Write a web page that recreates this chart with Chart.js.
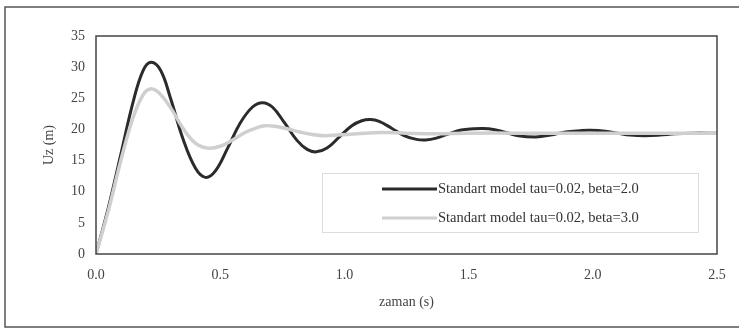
<!DOCTYPE html>
<html><head><meta charset="utf-8">
<script src="https://cdn.jsdelivr.net/npm/chart.js@4/dist/chart.umd.min.js"></script>
<style>html,body{margin:0;padding:0;background:#fff}#wrap{width:739px;height:329px}</style>
</head><body><div id="wrap"><canvas id="c" width="739" height="329"></canvas></div>
<script>
const seriesLabels = ["Standart model tau=0.02, beta=2.0", "Standart model tau=0.02, beta=3.0"];
const xTicks = [0, 0.5, 1.0, 1.5, 2.0, 2.5];
const yTicks = [0, 5, 10, 15, 20, 25, 30, 35];
const tBeta2 = [0,0.05,0.10,0.15,0.19,0.222,0.26,0.30,0.35,0.40,0.44,0.48,0.53,0.58,0.63,0.67,0.71,0.76,0.81,0.85,0.887,0.93,0.98,1.03,1.07,1.105,1.14,1.19,1.24,1.29,1.327,1.37,1.42,1.47,1.52,1.556,1.60,1.65,1.70,1.77,1.83,1.89,1.95,1.99,2.05,2.10,2.15,2.21,2.27,2.33,2.40,2.50];
const uzBeta2 = [0,7.5,16,24.5,29.5,30.8,29.5,25,18.5,13.8,12.3,13.3,17,21,23.6,24.3,23.6,21,18.2,16.8,16.4,17,18.8,20.6,21.4,21.6,21.3,20.2,19,18.4,18.3,18.6,19.3,19.9,20.1,20.15,20,19.5,19.0,18.8,19.1,19.6,19.8,19.85,19.7,19.4,19.1,19.0,19.1,19.3,19.4,19.4];
const tBeta3 = [0,0.05,0.10,0.15,0.19,0.218,0.25,0.30,0.35,0.40,0.45,0.50,0.55,0.60,0.65,0.68,0.72,0.77,0.82,0.87,0.92,0.97,1.05,1.15,1.25,1.35,1.5,1.7,2.0,2.5];
const uzBeta3 = [0,7,15,22,25.6,26.5,26,23.5,20.2,17.8,17.0,17.3,18.3,19.5,20.3,20.6,20.5,20.1,19.6,19.2,19.0,19.1,19.3,19.5,19.4,19.3,19.4,19.4,19.4,19.4];

const colors = ["#2b2b2b", "#cfcfcf"];
const serif = "'Liberation Serif', 'DejaVu Serif', serif";

const frame = {
  id: 'frame',
  beforeDraw(chart) {
    const ctx = chart.ctx;
    ctx.save();
    ctx.strokeStyle = '#555';
    ctx.lineWidth = 1.5;
    ctx.beginPath();
    ctx.moveTo(745, 7); ctx.lineTo(5, 7); ctx.lineTo(5, 327); ctx.lineTo(745, 327);
    ctx.stroke();
    ctx.restore();
  },
  afterDraw(chart) {
    const ctx = chart.ctx, a = chart.chartArea;
    ctx.save();
    ctx.strokeStyle = '#444';
    ctx.lineWidth = 1.5;
    ctx.strokeRect(a.left, a.top, a.right - a.left, a.bottom - a.top);
    // legend
    ctx.fillStyle = '#fff';
    ctx.fillRect(322, 173, 376, 59);
    ctx.strokeStyle = '#dcdcdc';
    ctx.lineWidth = 1;
    ctx.strokeRect(322.5, 173.5, 376, 59);
    const ys = [189, 218];
    chart.data.datasets.forEach((ds, i) => {
      ctx.strokeStyle = ds.borderColor;
      ctx.lineWidth = 3;
      ctx.beginPath();
      ctx.moveTo(382, ys[i]); ctx.lineTo(437, ys[i]);
      ctx.stroke();
      ctx.fillStyle = '#333';
      ctx.font = "14.5px " + serif;
      ctx.textBaseline = 'middle';
      ctx.textAlign = 'left';
      ctx.fillText(ds.label, 438, ys[i]);
    });
    ctx.restore();
  }
};

new Chart(document.getElementById('c'), {
  type: 'line',
  data: {
    datasets: [
      { label: seriesLabels[0], data: tBeta2.map((t, i) => ({x: t, y: uzBeta2[i]})), borderColor: colors[0], borderWidth: 3, pointRadius: 0, tension: 0.4, fill: false, order: 1 },
      { label: seriesLabels[1], data: tBeta3.map((t, i) => ({x: t, y: uzBeta3[i]})), borderColor: colors[1], borderWidth: 3.5, pointRadius: 0, tension: 0.4, fill: false, order: 0 }
    ]
  },
  options: {
    responsive: false,
    animation: false,
    devicePixelRatio: 1,
    layout: { padding: { left: 0, top: 36, right: 22, bottom: 0 } },
    plugins: { legend: { display: false }, tooltip: { enabled: false } },
    scales: {
      x: {
        type: 'linear', min: 0, max: 2.5,
        afterBuildTicks: s => { s.ticks = xTicks.map(v => ({value: v})); },
        afterFit: s => { s.height = 75; },
        grid: { display: false, drawTicks: false },
        border: { display: false },
        ticks: { padding: 13, color: '#444', font: { family: serif, size: 14 }, callback: v => v.toFixed(1), maxRotation: 0 },
        title: { display: true, text: 'zaman (s)', color: '#444', font: { family: serif, size: 14 }, padding: { top: 0, bottom: 18 } }
      },
      y: {
        min: 0, max: 35,
        afterBuildTicks: s => { s.ticks = yTicks.map(v => ({value: v})); },
        afterFit: s => { s.width = 96; },
        grid: { display: false, drawTicks: false },
        border: { display: false },
        ticks: { padding: 11, color: '#444', font: { family: serif, size: 14 } },
        title: { display: true, text: 'Uz (m)', color: '#444', font: { family: serif, size: 14 }, padding: { top: 41, bottom: 0 } }
      }
    }
  },
  plugins: [frame]
});
</script></body></html>
